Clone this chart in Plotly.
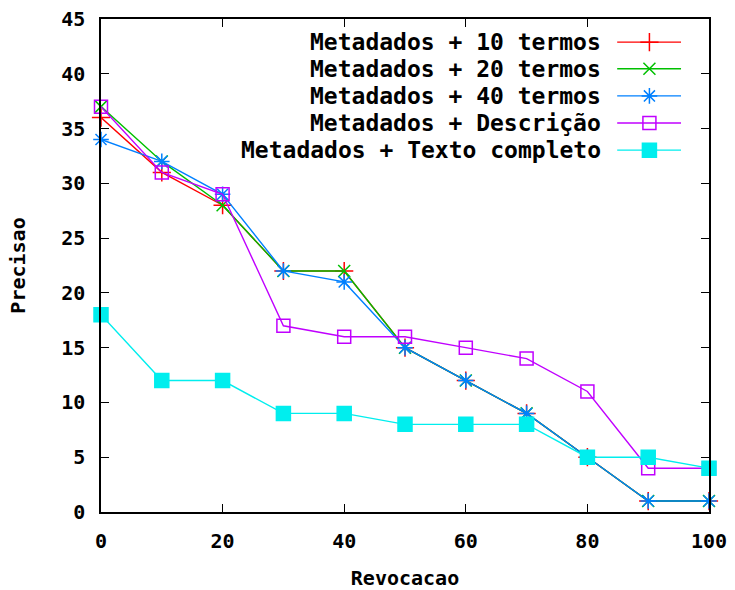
import plotly.graph_objects as go

recall = [0, 10, 20, 30, 40, 50, 60, 70, 80, 90, 100]
names = ["Metadados + 10 termos", "Metadados + 20 termos", "Metadados + 40 termos",
         "Metadados + Descrição", "Metadados + Texto completo"]
p10 = [36, 31, 28, 22, 22, 15, 12, 9, 5, 1, 1]
p20 = [37, 32, 28, 22, 22, 15, 12, 9, 5, 1, 1]
p40 = [34, 32, 29, 22, 21, 15, 12, 9, 5, 1, 1]
pdesc = [37, 31, 29, 17, 16, 16, 15, 14, 11, 4, 4]
ptext = [18, 12, 12, 9, 9, 8, 8, 8, 5, 5, 4]
series = [p10, p20, p40, pdesc, ptext]
colors = ["#ff0000", "#00c000", "#0080ff", "#c000ff", "#00eeee"]
symbols = ["cross-thin", "x-thin", "asterisk", "square-open", "square"]
msizes = [13, 12, 13, 13, 14]

xticks = [0, 20, 40, 60, 80, 100]
yticks = [0, 5, 10, 15, 20, 25, 30, 35, 40, 45]

FONT = "DejaVu Sans Mono"
fig = go.Figure()
for s, n, c, sym, ms in zip(series, names, colors, symbols, msizes):
    fig.add_trace(go.Scatter(
        x=recall, y=s, mode="lines+markers", name=n, cliponaxis=False,
        line=dict(color=c, width=1.4),
        marker=dict(symbol=sym, size=ms, color=c, line=dict(color=c, width=1.5)),
        showlegend=False))

# custom gnuplot-style key (text on the left, sample on the right)
row_y = [0.953, 0.899, 0.844, 0.789, 0.734]
for n, c, sym, ms, yy in zip(names, colors, symbols, msizes, row_y):
    fig.add_trace(go.Scatter(
        x=[0.849, 0.954], y=[yy, yy], mode="lines", xaxis="x2", yaxis="y2",
        line=dict(color=c, width=1.4), showlegend=False, hoverinfo="skip"))
    fig.add_trace(go.Scatter(
        x=[0.902], y=[yy], mode="markers", xaxis="x2", yaxis="y2",
        marker=dict(symbol=sym, size=ms, color=c, line=dict(color=c, width=1.5)),
        showlegend=False, hoverinfo="skip"))
    fig.add_annotation(x=0.826, y=yy, xref="x2", yref="y2", text=n, showarrow=False,
                       xanchor="right", yanchor="middle",
                       font=dict(family=FONT, size=23, color="black", weight="bold"))

axis_common = dict(showline=True, linecolor="black", linewidth=1.5, mirror="ticks",
                   ticks="inside", ticklen=8, tickwidth=1.3, tickcolor="black",
                   showgrid=False, zeroline=False, automargin=False,
                   tickfont=dict(family=FONT, size=20, color="black", weight="bold"))

fig.update_layout(
    width=735, height=590,
    margin=dict(l=101, r=26, t=19, b=78),
    plot_bgcolor="white", paper_bgcolor="white",
    xaxis=dict(range=[0, 100], tickvals=xticks, ticktext=[str(v) for v in xticks],
               ticklabelstandoff=10,
               title=dict(text="Revocacao", standoff=24,
                          font=dict(family=FONT, size=20, color="black", weight="bold")),
               **axis_common),
    yaxis=dict(range=[0, 45], tickvals=yticks, ticktext=[str(v) for v in yticks],
               ticklabelstandoff=10,
               title=dict(text="Precisao", standoff=30,
                          font=dict(family=FONT, size=20, color="black", weight="bold")),
               **axis_common),
    xaxis2=dict(range=[0, 1], overlaying="x", visible=False, fixedrange=True),
    yaxis2=dict(range=[0, 1], overlaying="y", visible=False, fixedrange=True),
)
fig.write_html("out.html")
